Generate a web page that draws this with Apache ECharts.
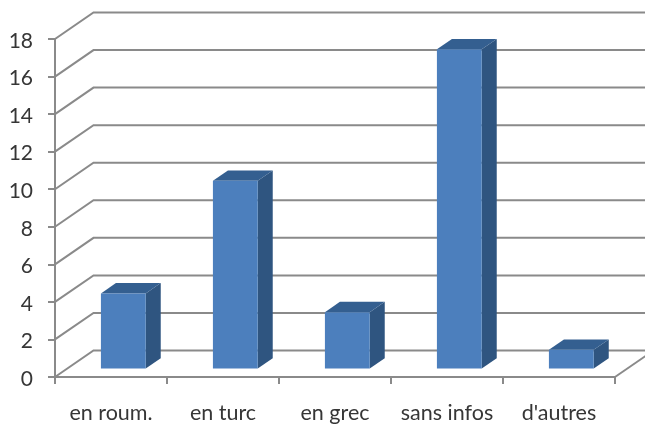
<!DOCTYPE html>
<html>
<head>
<meta charset="utf-8">
<style>html,body{margin:0;padding:0;background:#fff}#chart{width:645px;height:424px}</style>
<script src="https://cdn.jsdelivr.net/npm/echarts@6/dist/echarts.min.js"></script>
</head>
<body>
<div id="chart"></div>
<script>
// Number of items per category, drawn as 3D-looking columns
const categories = ["en roum.", "en turc", "en grec", "sans infos", "d'autres"];
const counts = [4, 10, 3, 17, 1];
const wallTicks = [0, 2, 4, 6, 8, 10, 12, 14, 16, 18];

const colors = { front: "#4c7fbd", side: "#2f5580", top: "#345f90", line: "#8a8a8a", text: "#363636" };
const labelFont = "Lato";

// Oblique projection of the depth axis, in pixels
const depthX = 38.5, depthY = -26.5;
const barNear = 0.32, barFar = 0.71, barShare = 0.4;

const chart = echarts.init(document.getElementById("chart"), null, { renderer: "canvas" });

function renderWall(params, api) {
  const rect = params.coordSys;
  const y = api.coord([0, api.value(0)])[1];
  const x0 = rect.x;
  const x1 = rect.x + rect.width;
  const pts = [[x0, y], [x0 + depthX, y + depthY], [x1 + depthX, y + depthY]];
  const style = { stroke: colors.line, lineWidth: 2, fill: null };
  const children = [{ type: "polyline", shape: { points: pts }, style, silent: true }];
  if (api.value(0) === 0) {
    children.push({ type: "line", shape: { x1, y1: y, x2: x1 + depthX, y2: y + depthY }, style, silent: true });
  }
  return { type: "group", children };
}

function renderColumn(params, api) {
  const base = api.coord([api.value(0), 0]);
  const head = api.coord([api.value(0), api.value(1)]);
  const w = api.size([1, 0])[0] * barShare;
  const nx = depthX * barNear, ny = depthY * barNear;
  const dx = depthX * (barFar - barNear), dy = depthY * (barFar - barNear);
  const l = base[0] - w / 2 + nx, r = l + w;
  const b = base[1] + ny, t = head[1] + ny;
  const poly = (points, fill) => ({ type: "polygon", shape: { points }, style: { fill, stroke: null } });
  return {
    type: "group",
    children: [
      poly([[r, t], [r + dx, t + dy], [r + dx, b + dy], [r, b]], colors.side),
      poly([[l, t], [l + dx, t + dy], [r + dx, t + dy], [r, t]], colors.top),
      poly([[l, t], [r, t], [r, b], [l, b]], colors.front)
    ]
  };
}

chart.setOption({
  animation: false,
  backgroundColor: "#ffffff",
  grid: { left: 55, top: 39, width: 560, height: 338.7, containLabel: false },
  xAxis: {
    type: "category",
    data: categories,
    axisLine: { show: true, lineStyle: { color: colors.line, width: 2 } },
    axisTick: { show: true, length: 7, alignWithLabel: false, lineStyle: { color: colors.line, width: 2 } },
    axisLabel: { color: colors.text, fontFamily: labelFont, fontSize: 21.5, margin: 25, interval: 0 },
    splitLine: { show: false }
  },
  yAxis: {
    type: "value",
    min: 0,
    max: 18,
    interval: 2,
    axisLine: { show: true, lineStyle: { color: colors.line, width: 2 } },
    axisTick: { show: true, length: 7, lineStyle: { color: colors.line, width: 2 } },
    axisLabel: { color: colors.text, fontFamily: labelFont, fontSize: 21, margin: 22, verticalAlign: "top", lineHeight: 4 },
    splitLine: { show: false }
  },
  series: [
    {
      type: "custom",
      name: "wall",
      coordinateSystem: "cartesian2d",
      encode: { y: 0 },
      data: wallTicks.map(v => [v]),
      renderItem: renderWall,
      silent: true,
      z: 1
    },
    {
      type: "custom",
      name: "counts",
      coordinateSystem: "cartesian2d",
      encode: { x: 0, y: 1 },
      data: counts.map((v, i) => [i, v]),
      renderItem: renderColumn,
      z: 2
    }
  ]
});
</script>
</body>
</html>
